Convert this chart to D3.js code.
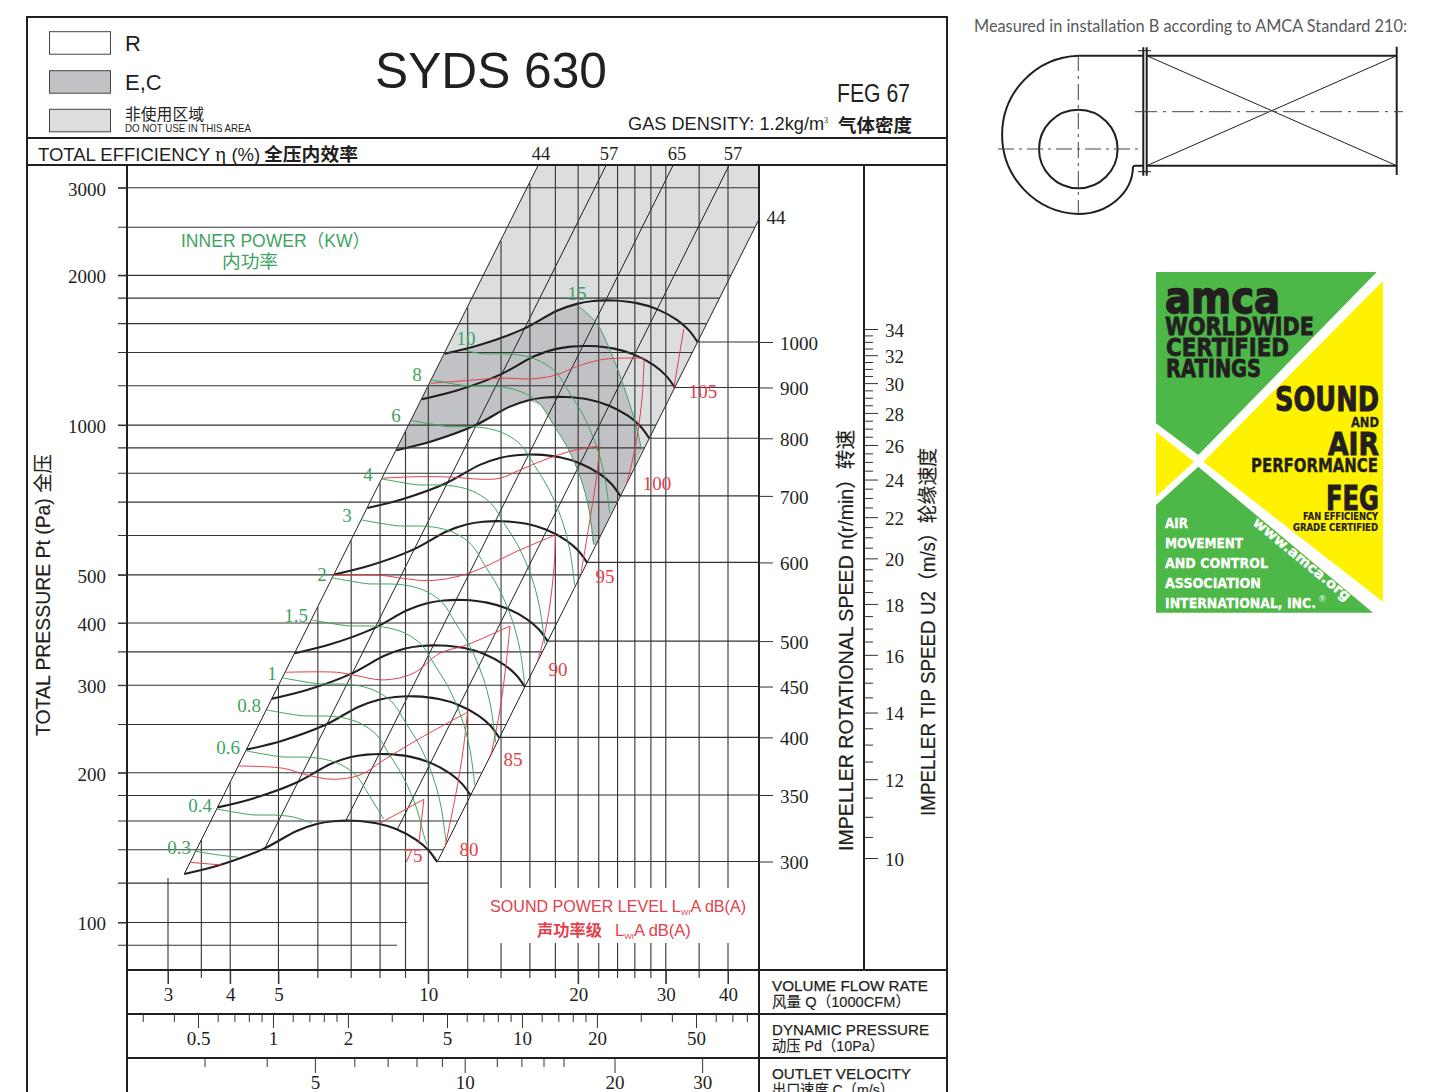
<!DOCTYPE html>
<html><head><meta charset="utf-8">
<style>html,body{margin:0;padding:0;background:#fff;overflow:hidden}svg{display:block}</style>
<script src="https://cdn.jsdelivr.net/npm/d3@7/dist/d3.min.js"></script>
</head><body><svg id="c" width="1431" height="1092" viewBox="0 0 1431 1092"></svg>
<script>
// ---------- axis values ----------
const gridQ    =[3,3.5,4,5,6,7,8,9,10,12,14,16,18,20,22,24,26,28,30,35,40];
const gridQTop =[122.9,146.5,191.4,299,430.7,586,765.6,969,1196,1723,2345,3063,3320,3320,3320,3320,3320,3320,3320,3320,3320];
const labelQ   =[3,4,5,10,20,30,40];
const gridP    =[3000,2500,2000,1800,1600,1400,1200,1000,900,800,700,600,500,400,350,300,250,200,180,160,140,120,100,90];
const gridPEnd =[46.15,45.3,40.5,38.43,36.24,33.9,31.38,28.65,27.18,25.62,23.97,22.19,20.26,18.12,16.95,15.69,14.32,12.81,12.15,11.46,10.72,10,9.07,8.65];
const labelP   =[3000,2000,1000,500,400,300,200,100];
const speeds   =[300,350,400,450,500,600,700,800,900,1000];
const tipMajor =[10,12,14,16,18,20,22,24,26,28,30,32,34];
const tipMinor =[10.5,11,11.5,12.5,13,13.5,14.5,15,15.5,16.5,17,17.5,18.5,19,19.5,20.5,21,21.5,22.5,23,23.5,24.5,25,25.5,26.5,27,27.5,28.5,29,29.5,30.5,31,31.5,32.5,33,33.5];
const pdMajor  =[0.5,1,2,5,10,20,50];
const pdMinor  =[0.3,0.4,0.6,0.7,0.8,0.9,1.2,1.4,1.6,1.8,3,4,6,7,8,9,12,14,16,18,30,40,60,70,80];
const velMajor =[5,10,20,30];
const velMinor =[3,4,6,7,8,9,11.6,13,14.4,15.8];
const etaLabels=[44,57,65,57];

// ---------- speed curves (Q in 1000 CFM, P in Pa) ----------
const n300Q=[3.235,3.815,4.661,5.44,5.966,6.442,7.067,7.873,8.636,9.473,10,10.42];
const n300P=[125.2,130.5,140.5,152.8,157.8,159.8,160.2,158.3,154,146.5,139.9,132.3];
const n350Q=[3.774,4.451,5.438,6.347,6.96,7.516,8.245,9.185,10.08,11.05,11.67,12.16];
const n350P=[170.4,177.6,191.2,208,214.8,217.5,218,215.5,209.6,199.4,190.4,180.1];
const n400Q=[4.313,5.087,6.215,7.253,7.955,8.589,9.423,10.5,11.51,12.63,13.33,13.89];
const n400P=[222.6,232,249.8,271.6,280.5,284.1,284.8,281.4,273.8,260.4,248.7,235.2];
const n450Q=[4.853,5.723,6.992,8.16,8.949,9.663,10.6,11.81,12.95,14.21,15,15.63];
const n450P=[281.7,293.6,316.1,343.8,355.1,359.6,360.5,356.2,346.5,329.6,314.8,297.7];
const n500Q=[5.392,6.358,7.768,9.067,9.943,10.74,11.78,13.12,14.39,15.79,16.67,17.37];
const n500P=[347.8,362.5,390.3,424.4,438.3,443.9,445,439.7,427.8,406.9,388.6,367.5];
const n600Q=[6.47,7.63,9.322,10.88,11.93,12.88,14.13,15.75,17.27,18.95,20,20.84];
const n600P=[500.8,522,562,611.2,631.2,639.2,640.8,633.2,616,586,559.6,529.2];
const n700Q=[7.548,8.902,10.88,12.69,13.92,15.03,16.49,18.37,20.15,22.1,23.33,24.31];
const n700P=[681.6,710.5,764.9,831.9,859.1,870,872.2,861.8,838.4,797.6,761.7,720.3];
const n800Q=[8.627,10.17,12.43,14.51,15.91,17.18,18.85,20.99,23.03,25.26,26.67,27.79];
const n800P=[890.3,928,999.1,1087,1122,1136,1139,1126,1095,1042,994.8,940.8];
const n900Q=[9.705,11.45,13.98,16.32,17.9,19.33,21.2,23.62,25.91,28.42,30,31.26];
const n900P=[1127,1175,1265,1375,1420,1438,1442,1425,1386,1319,1259,1191];
const n1000Q=[10.78,12.72,15.54,18.13,19.89,21.47,23.56,26.24,28.79,31.58,33.33,34.73];
const n1000P=[1391,1450,1561,1698,1753,1776,1780,1759,1711,1628,1554,1470];
const speedCurves=[[n300Q,n300P],[n350Q,n350P],[n400Q,n400P],[n450Q,n450P],[n500Q,n500P],[n600Q,n600P],[n700Q,n700P],[n800Q,n800P],[n900Q,n900P],[n1000Q,n1000P]];

// ---------- inner power curves ----------
const kw03Q=[3.399,3.677,4.151];
const kw03P=[139.2,137.3,135.2];
const kw04Q=[3.757,4.064,4.458,4.89,5.365,5.829];
const kw04P=[169.1,166.8,164.5,164.5,162.9,158.5];
const kw06Q=[4.316,4.669,5.121,5.618,6.163,6.697,7.18,7.622,8.134];
const kw06P=[221.2,218.1,215.1,215.1,213.1,207.3,197,179.6,161.4];
const kw08Q=[4.735,5.122,5.619,6.164,6.762,7.347,7.877,8.362,8.924,9.47,9.833,9.949];
const kw08P=[267.5,263.8,260.2,260.2,257.8,250.7,238.2,217.2,195.2,169.9,147.8,143.1];
const kw1Q=[5.105,5.523,6.058,6.645,7.29,7.921,8.492,9.015,9.621,10.21,10.6,10.86];
const kw1P=[310.2,305.9,301.7,301.7,298.9,290.7,276.3,251.8,226.4,197,171.4,144.6];
const kw15Q=[5.831,6.308,6.919,7.59,8.327,9.047,9.7,10.3,10.99,11.66,12.11,12.4];
const kw15P=[405.8,400.2,394.7,394.7,391,380.3,361.4,329.4,296.2,257.8,224.2,189.1];
const kw2Q=[6.424,6.95,7.623,8.362,9.174,9.968,10.69,11.34,12.11,12.85,13.34,13.66];
const kw2P=[492.9,486.1,479.4,479.4,474.9,461.9,439,400.1,359.7,313.1,272.4,229.7];
const kw3Q=[7.346,7.947,8.717,9.562,10.49,11.4,12.22,12.97,13.84,14.69,15.26,15.62];
const kw3P=[644.7,635.8,627,627,621.2,604.2,574.2,523.4,470.5,409.5,356.3,300.4];
const kw4Q=[8.058,8.717,9.562,10.49,11.51,12.5,13.4,14.23,15.19,16.12,16.73,17.14];
const kw4P=[779.5,768.7,758.1,758.1,751.1,730.5,694.2,632.8,568.9,495.1,430.8,363.2];
const kw6Q=[9.256,10.01,10.98,12.05,13.22,14.36,15.4,16.35,17.44,18.51,19.22,19.68];
const kw6P=[1021,1007,993,993,984,957,909,829,745,649,564,476];
const kw8Q=[10.11,10.94,12,13.16,14.44,15.69,16.82,17.85,19.05,20.22,21,21.5];
const kw8P=[1233,1216,1199,1199,1188,1156,1098,1001,900,783,681,575];
const kw10Q=[11.85,12.91,14.16,15.54,16.88,18.1,19.21,20.5,21.76,22.59,23.14];
const kw10P=[1413,1391,1391,1378,1340,1274,1161,1044,908,790,666];
const kw15xQ=[20,21.78,23.16,24.44,25.6,26.2,26.8];
const kw15xP=[1737,1603,1417,1233,1073,993,892];
const powerCurves=[[kw03Q,kw03P],[kw04Q,kw04P],[kw06Q,kw06P],[kw08Q,kw08P],[kw1Q,kw1P],[kw15Q,kw15P],[kw2Q,kw2P],[kw3Q,kw3P],[kw4Q,kw4P],[kw6Q,kw6P],[kw8Q,kw8P],[kw10Q,kw10P],[kw15xQ,kw15xP]];
const powerLabels=["0.3","0.4","0.6","0.8","1","1.5","2","3","4","6","8","10","15"];

// ---------- sound level curves ----------
const db75aQ=[3.321,3.845];
const db75aP=[132.1,130.5];
const db75bQ=[7.994,9.799,9.574];
const db75bP=[158.3,176.9,144.3];
const db80Q=[4.151,5.113,5.697,6.442,7.289,8.247,9.619,11.99,11.75,11.4,10.8];
const db80P=[206.4,204.2,198,194.1,198,213.9,234.6,264.7,222.3,184.7,141.4];
const db85Q=[5.153,6.544,7.067,8.117,9.326,10.55,11.94,14.59,14.36,13.93,13.34];
const db85P=[318.5,318.5,314.6,307.4,317,347.8,361.4,394.6,337.2,267.5,215.4];
const db90Q=[6.424,7.994,8.904,10.07,11.94,15.28,18.01,17.87,17.44,16.86,16.6];
const db90P=[499,499,492,486.8,502,561,601.5,511.5,417.7,355.3,337.2];
const db95Q=[8.058,9.619,11.22,12.7,13.93,15.28,17.82,19.85,22.11,21.78,21.27,20.64,20.25];
const db95P=[782,787.8,785.7,778.6,782,812.6,864.3,892,908,787.8,675,561,502];
const db100Q=[10.11,11.94,13.93,16.24,18.1,19.85,22.11,24.25,27.13,26.93,26.27,25.4,25.01];
const db100P=[1214,1229,1243,1239,1262,1311,1352,1363,1363,1159,948,806.5,764];
const db105Q=[32.6,31.12];
const db105P=[1559,1186];
const soundCurves=[[db75aQ,db75aP],[db75bQ,db75bP],[db80Q,db80P],[db85Q,db85P],[db90Q,db90P],[db95Q,db95P],[db100Q,db100P],[db105Q,db105P]];
const soundLabels=["75","80","85","90","95","100","105"];

// ---------- constant-efficiency lines ----------
const etaTopQ=[16.6,22.73,30.98,40.15,46.1];
const etaTopP=[3320,3320,3320,3320,2586];
const etaEndQ=[3.235,4.699,6.833,8.669,10.42];
const etaEndP=[125.2,141.2,160.4,154,132.3];

// ---------- layout ----------
const SERIF='"Liberation Serif",serif', SANS='"Liberation Sans","Noto Sans CJK SC",sans-serif', CJK='"Noto Sans CJK SC",sans-serif';
const INK='#231f20', LIGHT='#dcddde', DARK='#c1c2c5', GREEN='#3fa35f', RED='#e2404a';
const powerLabelXY=[[179,848],[200,806],[228,748],[249,706],[272,674],[296,616],[322,575],[347,516],[368,475],[396,416],[417,375],[466,339],[577,294]];
const soundLabelXY=[[413,856],[469,850],[513,760],[558,670],[605,577],[657,484],[703,392]];

const svg=d3.select('#c');
const x=d3.scaleLog().domain([3,40]).range([168,728]);
const y=d3.scaleLog().domain([100,3000]).range([922.5,187.8]);
const nY=d3.scaleLog().domain([300,1000]).range([861.5,342]);
const uY=d3.scaleLog().domain([10,34]).range([858,329]);
const pdX=d3.scaleLog().domain([0.5,50]).range([198,696]);
const velX=d3.scaleLog().domain([10,20]).range([464.7,614.5]);

const zip=(q,p)=>q.map((v,i)=>[v,p[i]]);
const line=d3.line().x(d=>x(d[0])).y(d=>y(d[1])).curve(d3.curveCatmullRom.alpha(0.5));
const merge=segs=>segs.map((s,i)=>i?s.replace(/^M/,'L'):s).join('')+'Z';

function txt(px,py,s,o={}){
  const t=(o.parent||svg).append('text').attr('x',px).attr('y',py).text(s)
    .attr('font-family',o.font||SANS).attr('font-size',o.size||16).attr('fill',o.fill||INK)
    .attr('text-anchor',o.anchor||'start');
  if(o.weight)t.attr('font-weight',o.weight);
  if(o.len)t.attr('textLength',o.len).attr('lengthAdjust','spacingAndGlyphs');
  if(o.rot!=null)t.attr('transform',`rotate(${o.rot} ${px} ${py})`);
  if(o.sw)t.attr('stroke',o.fill||INK).attr('stroke-width',o.sw);
  return t;
}
function seg(x1,y1,x2,y2,w=1,c=INK,p=svg){return p.append('line').attr('x1',x1).attr('y1',y1).attr('x2',x2).attr('y2',y2).attr('stroke',c).attr('stroke-width',w);}

svg.append('clipPath').attr('id','plot').append('rect').attr('x',127).attr('y',166).attr('width',632).attr('height',804);
const plot=svg.append('g').attr('clip-path','url(#plot)');

// Shaded regions
const k800=zip(n800Q,n800P), k1000=zip(n1000Q,n1000P), kw8=zip(kw8Q,kw8P), kw15x=zip(kw15xQ,kw15xP);
const lowerEdge=[[[21.7,575]].concat(kw8.slice(6).reverse()), k800.slice(0,5).reverse()];
plot.append('path').attr('fill',LIGHT).attr('d',merge([
  line([[8.627,890.3],[16.6,3320]]),
  line([[16.6,3320],[46.15,3320]]),
  line([[46.15,3320],[46.1,2586]]),
  line(lowerEdge[0]),line(lowerEdge[1])]));
plot.append('path').attr('fill',DARK).attr('d',merge([
  line([[8.627,890.3],[10.78,1391]]),
  line(k1000.slice(0,5)),
  line(kw15x),
  line(lowerEdge[0]),line(lowerEdge[1])]));

// Grid lines
gridP.forEach((p,i)=>seg(118,y(p),x(gridPEnd[i]),y(p),1.1,'#333'));
gridQ.forEach((q,i)=>seg(x(q),y(gridQTop[i]),x(q),labelQ.includes(q)?984:978,1.1,'#333'));
svg.append('rect').attr('x',485).attr('y',888).attr('width',265).attr('height',55).attr('fill','#fff');

// Sound
const sG=svg.append('g').attr('fill','none').attr('stroke',RED).attr('stroke-width',1);
soundCurves.forEach(([q,p])=>{
  const pts=zip(q,p), c=d3.maxIndex(q);
  sG.append('path').attr('d',[pts.slice(0,c+1),pts.slice(c)].filter(a=>a.length>1).map(a=>line(a)).join(''));
});
// Power
const pG=svg.append('g').attr('fill','none').attr('stroke',GREEN).attr('stroke-width',1);
powerCurves.forEach(([q,p])=>pG.append('path').attr('d',line(zip(q,p))));
// Efficiency lines
etaTopQ.forEach((q,i)=>plot.append('path').attr('fill','none').attr('stroke',INK).attr('stroke-width',1)
  .attr('d',d3.line().x(d=>x(d[0])).y(d=>y(d[1]))([[q,etaTopP[i]],[etaEndQ[i],etaEndP[i]]])));
// Speed curves
speedCurves.forEach(([q,p],i)=>{
  plot.append('path').attr('fill','none').attr('stroke',INK).attr('stroke-width',2.1).attr('d',line(zip(q,p)));
  seg(x(q[q.length-1]),nY(speeds[i]),759,nY(speeds[i]),1.1,'#333');
});

// Frame
svg.append('rect').attr('x',27).attr('y',17).attr('width',920).attr('height',1090).attr('fill','none').attr('stroke',INK).attr('stroke-width',2);
seg(27,138,947,138,2); seg(27,165,947,165,2);
seg(127,165,127,1092,2); seg(759,165,759,1092,2); seg(864,165,864,970,2);
seg(127,970,947,970,2); seg(127,1014,947,1014,2); seg(127,1058,947,1058,2);

// Axes
function axisStyle(g,dy){
  g.select('.domain').remove();
  g.selectAll('.tick line').attr('stroke','#333');
  g.selectAll('text').attr('font-family',SERIF).attr('font-size',19).attr('fill',INK);
  if(dy)g.selectAll('text').attr('dy',dy);
  return g;
}
axisStyle(svg.append('g').attr('transform','translate(127,0)').call(d3.axisLeft(y).tickValues(labelP).tickSize(9).tickPadding(12).tickFormat(d=>d)),'.38em');
axisStyle(svg.append('g').attr('transform','translate(759,0)').call(d3.axisRight(nY).tickValues(speeds).tickSize(14).tickPadding(7).tickFormat(d=>d)),'.38em');
axisStyle(svg.append('g').attr('transform','translate(864,0)').call(d3.axisRight(uY).tickValues(tipMinor).tickSize(9).tickFormat('')));
axisStyle(svg.append('g').attr('transform','translate(864,0)').call(d3.axisRight(uY).tickValues(tipMajor).tickSize(14).tickPadding(7).tickFormat(d=>d)),'.38em');
axisStyle(svg.append('g').attr('transform','translate(0,970)').call(d3.axisBottom(x).tickValues(labelQ).tickSize(14).tickPadding(3.5).tickFormat(d=>d)));
axisStyle(svg.append('g').attr('transform','translate(0,1014)').call(d3.axisBottom(pdX).tickValues(pdMinor).tickSize(8).tickFormat('')));
axisStyle(svg.append('g').attr('transform','translate(0,1014)').call(d3.axisBottom(pdX).tickValues(pdMajor).tickSize(14).tickPadding(3.5).tickFormat(d=>d)));
axisStyle(svg.append('g').attr('transform','translate(0,1058)').call(d3.axisBottom(velX).tickValues(velMinor).tickSize(9).tickFormat('')));
axisStyle(svg.append('g').attr('transform','translate(0,1058)').call(d3.axisBottom(velX).tickValues(velMajor).tickSize(15).tickPadding(2.5).tickFormat(d=>d)));

// Curve labels
powerLabels.forEach((s,i)=>txt(powerLabelXY[i][0],powerLabelXY[i][1]+6,s,{font:SERIF,size:19,fill:GREEN,anchor:'middle'}));
soundLabels.forEach((s,i)=>txt(soundLabelXY[i][0],soundLabelXY[i][1]+6,s,{font:SERIF,size:19,fill:RED,anchor:'middle'}));
[541,609,677,733].forEach((px,i)=>txt(px,160,String(etaLabels[i]),{font:SERIF,size:18.5,anchor:'middle'}));
txt(776,224,'44',{font:SERIF,size:19,anchor:'middle'});

// Header
[[31.7,'#fff'],[70.7,DARK],[109.3,LIGHT]].forEach(([py,c])=>svg.append('rect').attr('x',49.5).attr('y',py).attr('width',61).attr('height',22.5).attr('fill',c).attr('stroke','#444').attr('stroke-width',1));
txt(125,51,'R',{size:22}); txt(125,90,'E,C',{size:22});
txt(125,120,'非使用区域',{font:CJK,size:16,len:79});
txt(125,132,'DO NOT USE IN THIS AREA',{size:11,len:126});
txt(375,88,'SYDS 630',{size:50,len:232});
txt(837,102,'FEG 67',{size:25,len:73});
const gas=txt(628,130,'GAS DENSITY: 1.2kg/m',{size:18.2});
gas.append('tspan').attr('dy',-7).attr('font-family',SERIF).attr('font-size',8).text('3');
txt(838,132,'气体密度',{font:CJK,size:18.5,weight:700,len:74});
const eff=txt(38,160.5,'TOTAL EFFICIENCY ',{size:18.5});
eff.append('tspan').attr('font-family',SERIF).attr('font-size',21).text('η ');
eff.append('tspan').text('(%)');
txt(264,160.5,'全压内效率',{font:CJK,size:18.5,weight:700,len:94});

// Axis titles
txt(50,736,'TOTAL PRESSURE Pt (Pa) 全压',{size:19.5,rot:-90,len:282,sw:.15});
txt(853,851,'IMPELLER ROTATIONAL SPEED n(r/min）转速',{size:20,rot:-90,len:421,sw:.2});
txt(935,816,'IMPELLER TIP SPEED U2（m/s）轮缘速度',{size:20,rot:-90,len:368,sw:.2});
txt(181,247,'INNER POWER（KW）',{size:18,fill:GREEN,len:189});
txt(222,268,'内功率',{font:CJK,size:18.5,fill:GREEN,len:56});

// Sound caption
const cap1=txt(490,912,'SOUND POWER LEVEL L',{size:16.1,fill:RED});
cap1.append('tspan').attr('dy',3).attr('font-size',8).text('WI');
cap1.append('tspan').attr('dy',-3).text('A dB(A)');
txt(537,936,'声功率级',{font:CJK,size:16,fill:RED,weight:700,len:65});
const cap2=txt(615,936,'L',{size:16.5,fill:RED});
cap2.append('tspan').attr('dy',3).attr('font-size',8).text('WI');
cap2.append('tspan').attr('dy',-3).text('A dB(A)');

// Scale titles
txt(772,991,'VOLUME FLOW RATE',{size:15.5,len:156,sw:.25});
txt(772,1007,'风量 Q（1000CFM）',{size:15,len:138,sw:.15});
txt(772,1035,'DYNAMIC PRESSURE',{size:15.5,len:157,sw:.25});
txt(772,1051,'动压 Pd（10Pa）',{size:15,len:112,sw:.15});
txt(772,1079,'OUTLET VELOCITY',{size:15.5,len:139,sw:.25});
txt(772,1095,'出口速度 C（m/s）',{size:15,len:122,sw:.15});

// Right column: installation sketch
txt(974,32,'Measured in installation B according to AMCA Standard 210:',{font:'Lato,sans-serif',size:17,fill:'#58595b',len:433});
const fan=svg.append('g').attr('fill','none').attr('stroke',INK);
fan.append('path').attr('stroke-width',2).attr('d','M1143 55.7L1078.3 55.7A79 79.2 0 0 0 1078.3 214A55 48 0 0 0 1133 167Q1133.5 165.7 1135 165.7L1143 165.7');
fan.append('circle').attr('cx',1078.3).attr('cy',149).attr('r',39.3).attr('stroke-width',2);
fan.append('path').attr('stroke-width',2).attr('d','M1143.3 47.3V175.7M1146.7 47.3V175.7M1146.7 55.7H1396.7M1146.7 165.7H1396.7M1396.7 46.7V175');
fan.append('path').attr('stroke-width',1).attr('d','M1138 50.7H1151M1138 171.7H1151M1146.7 55.7L1396.7 165.7M1146.7 165.7L1396.7 55.7');
fan.append('path').attr('stroke-width',1).attr('stroke','#444').attr('stroke-dasharray','22 6 3 6').attr('d','M1135 111.7H1403');
fan.append('path').attr('stroke-width',1).attr('stroke','#444').attr('stroke-dasharray','16 5 3 5').attr('d','M998 149H1143M1078.3 55V214');

// Right column: certification seal
const seal=svg.append('g');
seal.append('rect').attr('x',1156).attr('y',272).attr('width',227).attr('height',341).attr('fill','#fff');
seal.append('path').attr('fill','#4db848').attr('d','M1156 272H1376.7L1198.3 455L1156 423.3Z');
seal.append('path').attr('fill','#4db848').attr('d','M1156 505L1198.3 466.7L1373 612.7H1156Z');
seal.append('path').attr('fill','#fff200').attr('d','M1383 281V601.7L1203.3 461.7Z');
seal.append('path').attr('fill','#fff200').attr('d','M1156 431.7L1194 461.7L1156 496.7Z');
const blk='#231f20', H='"DejaVu Sans",sans-serif';
const sealText=(px,py,s,o)=>txt(px,py,s,Object.assign({font:H,weight:700,fill:blk,parent:seal},o));
sealText(1165,313,'amca',{size:44,len:115,sw:1.5});
sealText(1165,335,'WORLDWIDE',{size:25,len:149,sw:.8});
sealText(1166,356,'CERTIFIED',{size:25,len:123,sw:.8});
sealText(1166,377,'RATINGS',{size:24,len:95,sw:.8});
sealText(1275,411,'SOUND',{size:33,len:104,sw:1});
sealText(1351,427,'AND',{size:14,len:28,sw:.3});
sealText(1328,455,'AIR',{size:32,len:51,sw:1});
sealText(1251,472,'PERFORMANCE',{size:19,len:127,sw:.4});
sealText(1326,510,'FEG',{size:34,len:53,sw:1});
sealText(1303,520,'FAN EFFICIENCY',{size:10.5,len:75,sw:.2});
sealText(1293,531,'GRADE CERTIFIED',{size:10.5,len:85,sw:.2});
[['AIR',1165,528,23],['MOVEMENT',1165,548,78],['AND CONTROL',1165,568,103],['ASSOCIATION',1165,588,96],['INTERNATIONAL, INC.',1165,608,151]]
  .forEach(([s,px,py,l])=>sealText(px,py,s,{size:14.5,len:l,fill:'#fff',sw:.3}));
txt(1319,602,'®',{size:9,fill:'#fff',parent:seal});
sealText(1252,524,'www.amca.org',{size:14,len:122,fill:'#fff',rot:39.5,sw:.3});
</script></body></html>
